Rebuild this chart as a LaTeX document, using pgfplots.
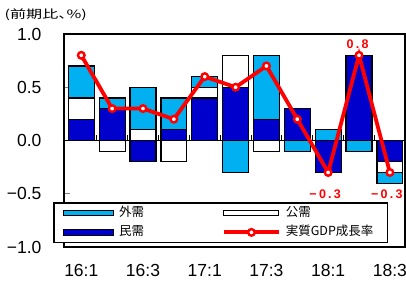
\documentclass[border=0pt]{standalone}
\usepackage{pgfplots}
\pgfplotsset{compat=1.18}
\usepackage{pgfplotstable}
\usepackage{fontspec}
\setmainfont{Liberation Sans}
\newfontfamily\cjk{Noto Sans CJK JP}
\newfontfamily\cjkp[RawFeature=+palt, FakeStretch=1.4]{Noto Sans CJK JP}
\newfontfamily\lblfont[LetterSpace=18]{Liberation Sans}
\definecolor{lb}{RGB}{0,176,240}
\definecolor{db}{RGB}{0,0,204}
\definecolor{rd}{RGB}{255,0,0}

% x: quarter index (16:1 ... 18:3); dp/wp/lp positive parts, dn/wn/ln negative parts
% d = 民需, w = 公需, l = 外需
\pgfplotstableread{
x  dp   wp   lp   dn    wn    ln    gdp
0  0.2  0.2  0.3  0     0     0     0.8
1  0.3  0    0.1  0    -0.1   0     0.3
2  0    0.1  0.4 -0.2   0     0     0.3
3  0.1  0    0.3  0    -0.2   0     0.2
4  0.4  0.1  0.1  0     0     0     0.6
5  0.5  0.3  0    0     0    -0.3   0.5
6  0.2  0    0.6  0    -0.1   0     0.7
7  0.3  0    0    0     0    -0.1   0.2
8  0    0    0.1 -0.3   0     0    -0.3
9  0.8  0    0    0     0    -0.1   0.8
10 0    0    0   -0.2  -0.1  -0.1  -0.3
}\data

\pgfplotsset{
  base/.style={at={(64pt,34pt)}, anchor=south west, width=341pt, height=213pt,
    scale only axis, xmin=-0.56, xmax=10.49, ymin=-1, ymax=1, bar width=0.84},
  barst/.style={draw=black, line width=1.2pt},
  barleg/.style={legend image code/.code={\draw[##1,line width=1.1pt] (0pt,-2.7pt) rectangle (#1,2.7pt);}},
  linleg/.style={legend image code/.code={\draw[##1] (0pt,0pt) -- (#1,0pt); \draw[##1,only marks] plot coordinates {(0.5*#1,0pt)};}},
  gdpst/.style={rd, line width=3.8pt, mark=*, mark size=3.3pt,
    mark options={fill=white, draw=rd, line width=2.4pt}},
}

\begin{document}
\begin{tikzpicture}
\useasboundingbox (0,0) rectangle (406pt,281pt);
\clip (0,0) rectangle (406pt,281pt);
\node[anchor=west, inner sep=0pt, font=\cjkp\fontsize{11.5}{13}\selectfont] at (4.5pt,266pt) {(前期比、\%)};

\begin{axis}[base, hide axis, ybar stacked]
\addplot[barst, fill=db] table[x=x,y=dn]{\data};
\addplot[barst, fill=white] table[x=x,y=wn]{\data};
\addplot[barst, fill=lb] table[x=x,y=ln]{\data};
\end{axis}

\begin{axis}[base, ybar stacked,
  axis line style={line width=1.6pt},
  ytick={-1,-0.5,0,0.5,1},
  yticklabels={−1.0,−0.5,0.0,0.5,1.0},
  ytick pos=left, tick align=inside, major tick length=6pt,
  ytick style={line width=1.2pt},
  xtick={0,2,4,6,8,10},
  xticklabels={16:1,16:3,17:1,17:3,18:1,18:3},
  xtick style={draw=none},
  yticklabel style={font=\fontsize{17.5}{20}\selectfont, xshift=-19pt},
  xticklabel style={font=\fontsize{17.5}{20}\selectfont, yshift=-14pt},
]
\addplot[barst, fill=db] table[x=x,y=dp]{\data};
\addplot[barst, fill=white] table[x=x,y=wp]{\data};
\addplot[barst, fill=lb] table[x=x,y=lp]{\data};
\end{axis}

\begin{axis}[base, hide axis, clip=false,
  legend columns=2,
  legend cell align=left,
  legend style={at={(-0.0314,0.0188)}, anchor=south west, draw=black, line width=1.3pt,
    font=\cjk\fontsize{12.5}{14}\selectfont, row sep=2.8pt,
    inner xsep=9pt, inner ysep=1.7pt,
    nodes={inner xsep=5pt, inner ysep=2pt, text height=9.5pt, text depth=3pt}},
]
\draw[line width=1.5pt] (axis cs:-0.56,0) -- (axis cs:10.49,0);
\pgfplotsinvokeforeach{0,...,9}{\draw[line width=1pt] (axis cs:#1.5,0) -- ([yshift=5pt]axis cs:#1.5,0);}
\addplot[forget plot, gdpst] table[x=x,y=gdp]{\data};
\addplot[forget plot, draw=none, mark=none, nodes near coords, point meta=explicit symbolic,
  nodes near coords style={anchor=center, yshift=11.5pt, xshift=-1.5pt, text=rd,
    font=\lblfont\bfseries\fontsize{12.5}{14}\selectfont}]
  coordinates {(9,0.8) [0.8]};
\addplot[forget plot, draw=none, mark=none, nodes near coords, point meta=explicit symbolic,
  nodes near coords style={anchor=center, yshift=-21.7pt, xshift=-3pt, text=rd,
    font=\lblfont\bfseries\fontsize{12.5}{14}\selectfont}]
  coordinates {(8,-0.3) [−0.3] (10,-0.3) [−0.3]};
\addlegendimage{barleg=50pt, fill=lb, draw=black}
\addlegendentry{\makebox[98pt][l]{外需}}
\addlegendimage{barleg=55pt, fill=white, draw=black}
\addlegendentry{公需}
\addlegendimage{barleg=50pt, fill=db, draw=black}
\addlegendentry{\makebox[98pt][l]{民需}}
\addlegendimage{linleg=55pt, gdpst}
\addlegendentry{実質GDP成長率}
\end{axis}
\end{tikzpicture}
\end{document}
